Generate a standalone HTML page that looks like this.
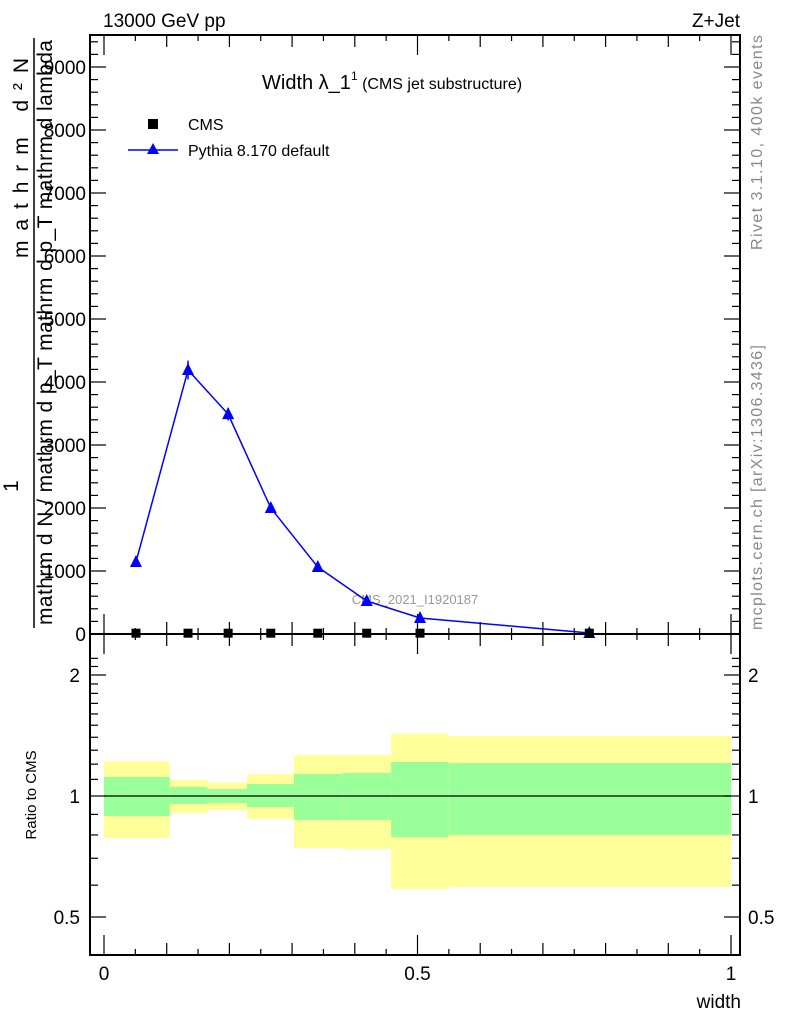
<!DOCTYPE html>
<html><head><meta charset="utf-8"><style>
html,body{margin:0;padding:0;background:#fff;}
svg{display:block;font-family:"Liberation Sans",sans-serif;}
</style></head><body>
<svg id="c" width="786" height="1024" viewBox="0 0 786 1024" xmlns="http://www.w3.org/2000/svg">
<text x="103" y="27" font-size="19">13000 GeV pp</text>
<text x="740" y="27" font-size="19" text-anchor="end">Z+Jet</text>
<text x="262" y="89" font-size="20">Width λ_1<tspan font-size="12" dy="-9">1</tspan><tspan font-size="16" dy="9"> (CMS jet substructure)</tspan></text>
<text transform="translate(762,250) rotate(-90)" font-size="16" fill="#888" textLength="215">Rivet 3.1.10,  400k events</text>
<text transform="translate(762,630) rotate(-90)" font-size="16" fill="#888" textLength="285">mcplots.cern.ch [arXiv:1306.3436]</text>
<text x="415" y="604" font-size="13" fill="#999" text-anchor="middle">CMS_2021_I1920187</text>
<g font-size="21">
<text transform="translate(28,258) rotate(-90)" textLength="200">mathrm d²N</text>
<line x1="34" y1="628" x2="34" y2="38" stroke="#000" stroke-width="1.5"/>
<text transform="translate(52,625) rotate(-90)" textLength="585">mathrm d N / mathrm d p_T mathrm d p_T mathrm d lambda</text>
<text transform="translate(18,492) rotate(-90)">1</text>
</g>
<text x="0" y="0" transform="translate(36,795) rotate(-90)" font-size="15" text-anchor="middle">Ratio to CMS</text>
<text x="741" y="1008" font-size="19" text-anchor="end">width</text>
<g id="g"></g>
</svg>
<script>
const categories = [0.051,0.134,0.198,0.266,0.341,0.419,0.504,0.774];
const pythiaValues = [1143,4190,3490,2000,1063,524,254,16];
const pythiaErrors = [30,150,100,50,30,20,10,5];
const cmsValues = [5,5,5,5,5,5,5,5];
const binEdges = [0,0.105,0.165,0.228,0.303,0.38,0.458,0.549,1.0];
const yellowHi = [1.22,1.096,1.08,1.134,1.265,1.265,1.43,1.41];
const yellowLo = [0.786,0.907,0.923,0.877,0.743,0.738,0.587,0.594];
const greenHi = [1.115,1.053,1.041,1.071,1.134,1.141,1.215,1.208];
const greenLo = [0.892,0.955,0.961,0.939,0.872,0.872,0.79,0.8];
const yTicks = [0,1000,2000,3000,4000,5000,6000,7000,8000,9000];
const xTicks = [0,0.5,1];
const xTickLabels = ["0","0.5","1"];
const rTicks = [0.5,1,2];
const rTickLabels = ["0.5","1","2"];

const NS="http://www.w3.org/2000/svg", g=document.getElementById('g');
const L=90,R=740,T=35,M=634,B=955;
const X=v=>104+v*627;
const Y=v=>634-v*0.063;
const RY=v=>796-Math.log2(v)*121;
function el(t,a){const e=document.createElementNS(NS,t);for(const k in a)e.setAttribute(k,a[k]);g.appendChild(e);return e;}

for(let i=0;i<yellowHi.length;i++){
 const r=el('rect',{x:X(binEdges[i]),y:RY(yellowHi[i]),width:X(binEdges[i+1])-X(binEdges[i]),height:RY(yellowLo[i])-RY(yellowHi[i]),fill:'#ffff99'});
 
 
 const q=el('rect',{x:X(binEdges[i]),y:RY(greenHi[i]),width:X(binEdges[i+1])-X(binEdges[i]),height:RY(greenLo[i])-RY(greenHi[i]),fill:'#99ff99'});
 
 
}
const ref=el('line',{x1:X(0),x2:X(1),y1:RY(1),y2:RY(1),stroke:'#000','stroke-width':1.2});



const f1=el('rect',{x:L,y:T,width:R-L,height:M-T,fill:'none',stroke:'#000','stroke-width':2});


const f2=el('rect',{x:L,y:M,width:R-L,height:B-M,fill:'none',stroke:'#000','stroke-width':2});



for(let k=0;k<=20;k++){
 const v=k*0.05, len=(k%10==0)?20:(k%2==0?12:6), x=X(v);
 for(const [base,dir] of [[M,-1],[B,-1],[T,1],[M,1]]){
  el('line',{x1:x,x2:x,y1:base,y2:base+dir*len,stroke:'#000','stroke-width':1.2});
 }
}
xTicks.forEach((v,i)=>{const t=el('text',{x:X(v),y:980,'font-size':19,'text-anchor':'middle'});t.textContent=xTickLabels[i];
 
 });

for(let v=0;v<=9400;v+=200){
 const y=Y(v), len=(v%1000==0)?16:8;
 if(y<T)continue;
 el('line',{x1:L,x2:L+len,y1:y,y2:y,stroke:'#000','stroke-width':1.2});
 el('line',{x1:R,x2:R-len,y1:y,y2:y,stroke:'#000','stroke-width':1.2});
}
yTicks.forEach(v=>{const t=el('text',{x:86,y:Y(v)+7,'font-size':19,'text-anchor':'end'});t.textContent=v;
 
 });

[0.5,0.6,0.7,0.8,0.9,1,1.1,1.2,1.3,1.4,1.5,1.6,1.7,1.8,1.9,2,2.1,2.2].forEach(v=>{
 const y=RY(v); if(y<M||y>B)return;
 const len=rTicks.includes(v)?16:8;
 el('line',{x1:L,x2:L+len,y1:y,y2:y,stroke:'#000','stroke-width':1.2});
 el('line',{x1:R,x2:R-len,y1:y,y2:y,stroke:'#000','stroke-width':1.2});
});
rTicks.forEach((v,i)=>{
 const a=el('text',{x:80,y:RY(v)+7,'font-size':19,'text-anchor':'end'});a.textContent=rTickLabels[i];
 
 
 const b=el('text',{x:748,y:RY(v)+7,'font-size':19});b.textContent=rTickLabels[i];
 
 
});

const pl=el('polyline',{points:categories.map((c,i)=>X(c)+','+Y(pythiaValues[i])).join(' '),fill:'none',stroke:'#0000ff','stroke-width':1.5});


categories.forEach((c,i)=>{
 const x=X(c),y=Y(pythiaValues[i]),e=pythiaErrors[i];
 el('line',{x1:x,x2:x,y1:Y(pythiaValues[i]+e),y2:Y(pythiaValues[i]-e),stroke:'#0000ff','stroke-width':1.5});
 const p=el('polygon',{points:`${x},${y-7} ${x-6},${y+5} ${x+6},${y+5}`,fill:'#0000ff'});
 
 
 const s=el('rect',{x:x-4.5,y:Y(cmsValues[i])-5,width:9,height:9,fill:'#000'});
 
 
});

const ls=el('rect',{x:148,y:119,width:10,height:10,fill:'#000'});


const lt=el('text',{x:188,y:130,'font-size':16});lt.textContent='CMS';


el('line',{x1:128,x2:178,y1:150,y2:150,stroke:'#0000ff','stroke-width':1.5});
const lp=el('polygon',{points:'153,143 147,154 159,154',fill:'#0000ff'});


const lt2=el('text',{x:188,y:156,'font-size':16});lt2.textContent='Pythia 8.170 default';


</script>
</body></html>
